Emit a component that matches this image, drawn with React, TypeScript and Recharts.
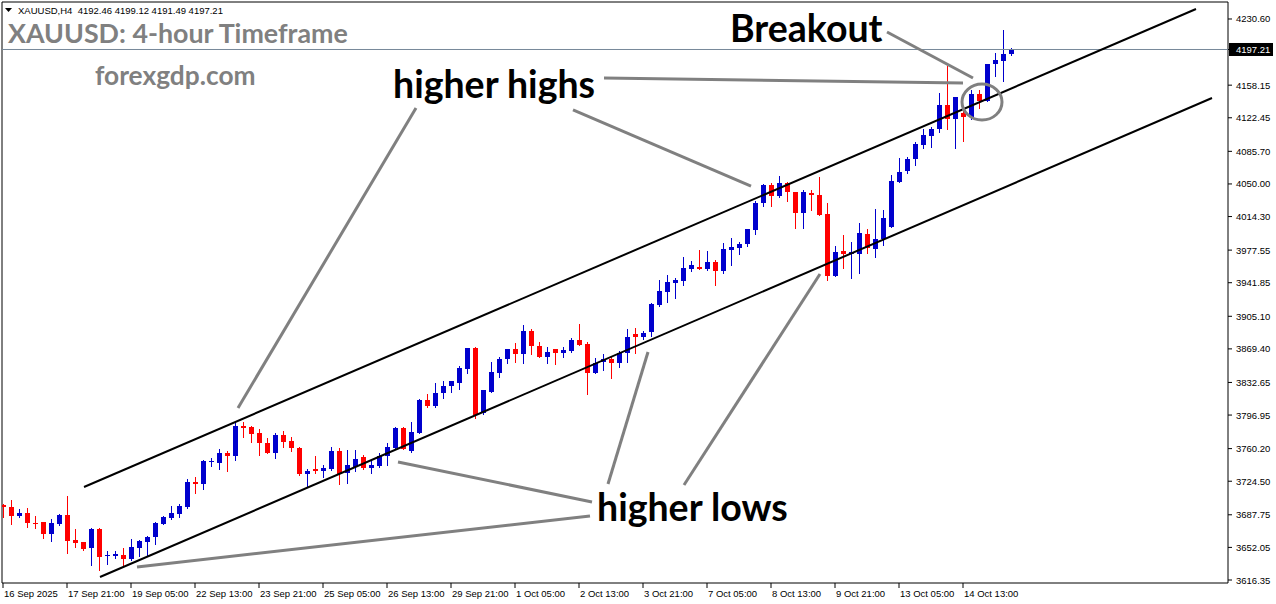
import React from 'react';
import { ComposedChart, Bar, XAxis, YAxis, ReferenceLine, ReferenceDot, ReferenceArea, Customized } from 'recharts';

// ---- data (H4 candles, index 0 = 16 Sep 2025 17:00) ----
const open = [3698.5,3696.3,3686.5,3689.8,3678.8,3679.9,3666.8,3677.7,3687.6,3660.2,3658.0,3651.5,3672.2,3642.7,3642.7,3643.8,3639.4,3651.5,3658.0,3663.5,3677.7,3684.3,3688.7,3696.3,3723.7,3721.5,3745.6,3744.5,3755.5,3752.2,3784.9,3783.9,3777.3,3766.3,3755.4,3775.1,3768.5,3760.9,3732.4,3737.9,3735.7,3737.9,3757.6,3733.5,3740.1,3751.1,3739.0,3741.2,3752.2,3760.9,3782.8,3757.6,3777.3,3813.4,3806.8,3821.1,3828.7,3832.0,3847.3,3870.3,3799.2,3822.2,3843.0,3858.3,3869.3,3863.8,3889.0,3872.6,3860.5,3869.3,3864.9,3867.1,3879.1,3874.8,3843.0,3855.0,3858.3,3853.9,3864.9,3885.7,3882.4,3887.9,3917.5,3931.7,3941.6,3943.8,3956.9,3959.1,3956.9,3964.5,3954.7,3977.7,3979.9,3984.2,3999.6,4029.1,4048.8,4036.8,4051.0,4041.2,4018.2,4040.1,4037.9,4017.1,3949.2,3976.6,3973.3,3973.3,3995.2,3978.8,3989.7,4002.9,4052.1,4064.2,4077.3,4092.6,4102.5,4110.2,4136.4,4121.1,4127.7,4123.3,4148.5,4140.8,4181.3,4184.6,4192.46];
const high = [3699.6,3704.0,3694.1,3695.2,3686.5,3680.4,3683.2,3688.7,3708.4,3672.2,3658.5,3673.3,3673.3,3648.2,3648.2,3651.5,3661.3,3660.2,3664.6,3679.9,3686.5,3697.4,3699.6,3727.0,3729.2,3747.8,3750.0,3759.8,3757.6,3790.4,3789.3,3784.9,3781.7,3771.8,3777.3,3779.5,3772.9,3761.5,3737.9,3752.2,3742.3,3762.0,3760.9,3758.7,3758.7,3753.3,3747.8,3755.5,3766.3,3783.9,3783.9,3789.3,3814.5,3820.0,3832.0,3834.2,3834.7,3850.6,3870.8,3871.4,3824.8,3855.0,3860.5,3869.8,3875.8,3895.6,3891.2,3876.9,3871.4,3869.8,3871.4,3881.3,3896.7,3876.9,3859.4,3863.8,3861.6,3867.1,3891.2,3892.3,3889.0,3919.7,3944.9,3950.4,3947.1,3970.0,3965.6,3977.7,3976.6,3966.7,3985.3,3990.8,3986.4,4001.2,4031.3,4049.9,4051.0,4058.7,4052.1,4041.7,4043.4,4043.4,4057.6,4029.1,3982.1,3994.1,3986.4,4007.2,4000.7,4022.6,4021.5,4059.8,4078.4,4079.5,4095.9,4110.2,4112.3,4149.6,4179.1,4145.7,4134.2,4152.9,4152.9,4181.8,4193.4,4218.6,4199.12];
const low = [3685.4,3677.7,3685.4,3674.4,3673.3,3662.4,3659.1,3676.6,3646.0,3652.5,3649.3,3632.8,3627.4,3633.9,3640.5,3632.8,3638.8,3642.7,3643.8,3655.8,3677.2,3683.2,3685.4,3695.2,3711.7,3716.0,3741.3,3737.9,3735.7,3747.8,3772.8,3767.0,3752.8,3755.0,3749.9,3762.0,3757.6,3731.3,3719.3,3733.5,3729.2,3736.8,3721.5,3722.6,3735.7,3737.9,3733.5,3740.1,3742.3,3759.8,3759.3,3757.0,3776.8,3805.7,3806.3,3815.6,3822.2,3825.4,3843.0,3793.7,3798.1,3821.7,3838.6,3853.9,3855.0,3853.9,3863.8,3860.0,3853.9,3852.8,3860.5,3866.0,3873.2,3820.0,3842.5,3846.2,3837.5,3849.5,3855.0,3864.9,3880.2,3883.5,3916.4,3920.7,3925.1,3939.4,3954.7,3956.4,3955.8,3939.4,3952.5,3961.3,3973.3,3982.1,3995.2,4025.8,4025.8,4035.7,4031.3,4001.8,4001.8,4021.5,4015.5,3944.8,3948.7,3958.0,3947.0,3952.5,3974.4,3970.0,3983.2,4002.4,4051.6,4062.0,4070.7,4089.4,4090.5,4106.9,4110.2,4089.4,4097.0,4121.1,4133.1,4140.3,4168.2,4162.7,4191.49];
const close = [3695.8,3686.5,3689.8,3678.8,3677.7,3666.8,3678.8,3687.6,3659.1,3656.9,3650.4,3672.2,3641.6,3643.8,3644.9,3639.4,3652.6,3659.1,3663.5,3678.8,3685.4,3689.8,3697.4,3723.7,3721.5,3746.7,3746.7,3755.5,3752.2,3784.9,3782.8,3776.2,3765.9,3755.4,3775.1,3767.4,3760.9,3732.4,3735.7,3735.7,3739.0,3757.6,3732.4,3742.3,3748.9,3739.0,3742.3,3752.2,3762.0,3782.8,3759.8,3778.4,3813.4,3806.8,3821.1,3828.7,3834.2,3848.4,3870.3,3797.0,3824.3,3844.1,3858.3,3869.3,3863.8,3889.0,3872.6,3860.5,3866.0,3864.9,3868.2,3879.1,3873.7,3843.0,3853.9,3858.3,3853.9,3864.9,3882.4,3882.4,3886.8,3918.6,3932.8,3942.7,3944.9,3958.0,3961.3,3956.9,3964.5,3954.7,3978.8,3981.0,3984.2,4000.7,4029.1,4048.8,4036.8,4051.0,4041.2,4018.2,4041.2,4037.9,4016.0,3949.2,3975.5,3973.3,3975.5,3996.3,3979.9,3989.7,4012.7,4053.2,4063.1,4077.3,4093.7,4103.6,4110.2,4136.4,4121.1,4145.2,4123.3,4148.5,4140.8,4181.3,4185.7,4192.3,4197.21];

const dateTickIdx = [0, 8, 16, 24, 32, 40, 48, 56, 64, 72, 80, 88, 96, 104, 112, 120];
const dateLabels = ['16 Sep 2025', '17 Sep 21:00', '19 Sep 05:00', '22 Sep 13:00', '23 Sep 21:00', '25 Sep 05:00', '26 Sep 13:00', '29 Sep 21:00', '1 Oct 05:00', '2 Oct 13:00', '3 Oct 21:00', '7 Oct 05:00', '8 Oct 13:00', '9 Oct 21:00', '13 Oct 05:00', '14 Oct 13:00'];
const priceTicks = [4230.60, 4197.21, 4158.15, 4122.45, 4085.70, 4050.00, 4014.30, 3977.55, 3941.85, 3905.10, 3869.40, 3832.65, 3796.95, 3760.20, 3724.50, 3687.75, 3652.05, 3616.35];
const lastPrice = 4197.21;
const headerText = 'XAUUSD,H4  4192.46 4199.12 4191.49 4197.21';

// channel lines [x index, price]
const upperChannel = [[10.125, 3718.2], [149.125, 4241.5]];
const lowerChannel = [[12.125, 3619.6], [151.125, 4144.1]];
// annotation pointer lines
const pointerLines = [
  [[51.625, 4133.1], [29.375, 3804.7]],
  [[71.25, 4131.0], [93.5, 4047.7]],
  [[75.125, 4166.0], [120.0, 4160.5]],
  [[110.5, 4216.4], [121.25, 4166.0]],
  [[49.375, 3745.6], [73.625, 3701.8]],
  [[16.75, 3630.6], [73.375, 3686.4]],
  [[80.625, 3866.0], [75.625, 3721.5]],
  [[102.125, 3951.4], [85.125, 3720.4]],
];
const annotations = [
  { text: 'higher highs', x: 48.75, y: 4144.1 },
  { text: 'Breakout', x: 90.875, y: 4205.4 },
  { text: 'higher lows', x: 74.25, y: 3681.0 },
];
const breakoutCircle = { x: 122.375, y: 4139.7 };

const X_DOMAIN = [-0.125, 153.125];
const Y_DOMAIN = [3613.07, 4249.21];

const BLUE = '#0000cd';
const RED = '#ff0000';
const GRAY = '#808080';
const AXIS_FONT = '"Liberation Sans", Arial, sans-serif';
const ANN_FONT = 'Lato, "Open Sans", sans-serif';

const data = open.map((o, i) => ({ i, o, h: high[i], l: low[i], c: close[i], range: [low[i], high[i]] }));

const Candle = (props: any) => {
  const { x, y, width, height, payload } = props;
  if (!payload || x == null) return null;
  const { o, h, l, c } = payload;
  const top = Math.min(y, y + height);
  const bot = Math.max(y, y + height);
  const k = h - l > 0 ? (bot - top) / (h - l) : 0;
  const yOf = (v: number) => top + (h - v) * k;
  const up = c >= o;
  const color = up ? BLUE : RED;
  const cx = Math.round(x + width / 2) + 0.5;
  const bt = Math.round(yOf(Math.max(o, c)));
  const bb = Math.round(yOf(Math.min(o, c)));
  return (
    <g shapeRendering="crispEdges">
      <line x1={cx} x2={cx} y1={Math.round(top)} y2={Math.round(bot) + 1} stroke={color} strokeWidth={1} />
      <rect x={cx - 2.5} y={bt} width={5} height={Math.max(1, bb - bt)} fill={color} />
    </g>
  );
};

const YTick = (props: any) => {
  const { x, y, payload } = props;
  const v = payload.value;
  if (Math.abs(v - lastPrice) < 0.001) {
    return (
      <g>
        <rect x={x - 5} y={y - 6.5} width={44} height={13} fill="#000" />
        <text x={x + 2} y={y} dy={3.5} fill="#fff" fontSize={9.5} fontFamily={AXIS_FONT}>{v.toFixed(2)}</text>
      </g>
    );
  }
  return (
    <text x={x + 2} y={y} dy={3.5} fill="#000" fontSize={9.5} fontFamily={AXIS_FONT}>{v.toFixed(2)}</text>
  );
};

const XTick = (props: any) => {
  const { x, y, payload } = props;
  const k = dateTickIdx.indexOf(payload.value);
  return (
    <text x={x + 1} y={y} dy={6.5} fill="#000" fontSize={9.5} fontFamily={AXIS_FONT} textAnchor="start">{k >= 0 ? dateLabels[k] : ''}</text>
  );
};

const Header = () => (
  <g>
    <path d="M5,8 L12,8 L8.5,12 Z" fill="#000" />
    <text x={18} y={14} fontSize={9.5} fontFamily={AXIS_FONT} fill="#000" style={{ whiteSpace: 'pre' }}>{headerText}</text>
    <text x={8} y={43} fontSize={26.8} fontWeight={700} fontFamily={ANN_FONT} fill={GRAY}>XAUUSD: 4-hour Timeframe</text>
    <text x={95} y={85} fontSize={26.3} fontWeight={700} fontFamily={ANN_FONT} fill={GRAY}>forexgdp.com</text>
  </g>
);

export default function App() {
  return (
    <div style={{ position: 'fixed', left: 0, top: 0, width: 1276, height: 604, background: '#fff' }}>
      <ComposedChart width={1276} height={604} data={data} margin={{ top: 2, left: 2, right: 0, bottom: 0 }}>
        <XAxis dataKey="i" type="number" domain={X_DOMAIN} allowDataOverflow ticks={dateTickIdx} interval={0}
          tick={<XTick />} tickSize={5} tickLine={{ stroke: '#000' }} axisLine={false} height={21} />
        <YAxis orientation="right" type="number" domain={Y_DOMAIN} allowDataOverflow ticks={priceTicks} interval={0}
          tick={<YTick />} tickSize={4} tickLine={{ stroke: '#000' }} axisLine={false} width={48} />
        <ReferenceArea x1={X_DOMAIN[0]} x2={X_DOMAIN[1]} y1={Y_DOMAIN[0]} y2={Y_DOMAIN[1]} fill="none" stroke="#000" strokeWidth={1} />
        <ReferenceLine y={lastPrice} stroke="#778899" strokeWidth={1} />
        <Bar dataKey="range" barSize={5} shape={<Candle />} isAnimationActive={false} />
        <ReferenceLine segment={[{ x: upperChannel[0][0], y: upperChannel[0][1] }, { x: upperChannel[1][0], y: upperChannel[1][1] }]} stroke="#000" strokeWidth={2} />
        <ReferenceLine segment={[{ x: lowerChannel[0][0], y: lowerChannel[0][1] }, { x: lowerChannel[1][0], y: lowerChannel[1][1] }]} stroke="#000" strokeWidth={2} />
        {pointerLines.map((s, k) => (
          <ReferenceLine key={'p' + k} segment={[{ x: s[0][0], y: s[0][1] }, { x: s[1][0], y: s[1][1] }]} stroke={GRAY} strokeWidth={3} />
        ))}
        <ReferenceDot x={breakoutCircle.x} y={breakoutCircle.y} r={19}
          shape={(p: any) => <ellipse cx={p.cx} cy={p.cy} rx={20} ry={18} fill="none" stroke={GRAY} strokeWidth={3} />} />
        {annotations.map((a, k) => (
          <ReferenceDot key={'a' + k} x={a.x} y={a.y} r={1}
            shape={(p: any) => <text x={p.cx} y={p.cy} fontSize={37.5} fontWeight={700} fontFamily={ANN_FONT} fill="#000">{a.text}</text>} />
        ))}
        <Customized component={<Header />} />
      </ComposedChart>
    </div>
  );
}
